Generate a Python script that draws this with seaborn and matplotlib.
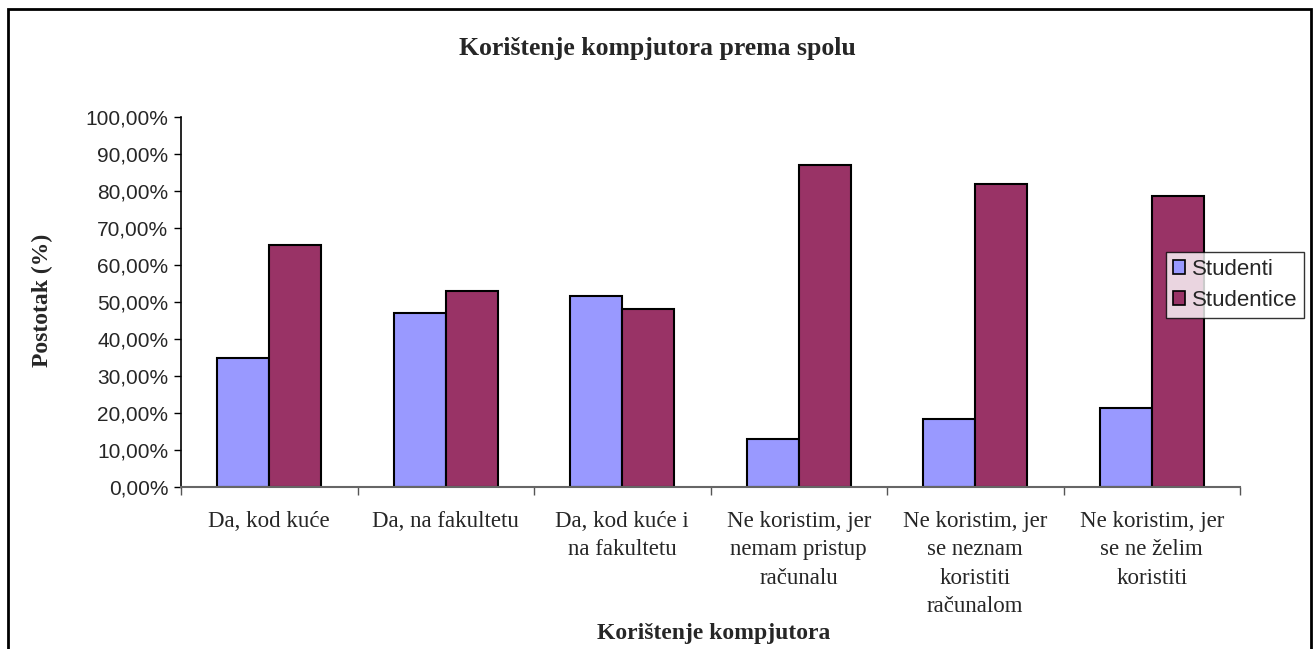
import matplotlib
matplotlib.use("Agg")
import matplotlib.pyplot as plt
import seaborn as sns
import pandas as pd
from matplotlib.patches import Rectangle
from matplotlib.ticker import FuncFormatter, MultipleLocator, FixedLocator

categories = [
    "Da, kod kuće",
    "Da, na fakultetu",
    "Da, kod kuće i\nna fakultetu",
    "Ne koristim, jer\nnemam pristup\nračunalu",
    "Ne koristim, jer\nse neznam\nkoristiti\nračunalom",
    "Ne koristim, jer\nse ne želim\nkoristiti",
]
studenti = [34.8, 47.0, 51.7, 13.0, 18.3, 21.3]
studentice = [65.3, 53.1, 48.2, 87.1, 81.8, 78.7]
series_names = ["Studenti", "Studentice"]
colors = ["#9999FF", "#993366"]

df = pd.DataFrame({
    "kat": categories * 2,
    "spol": [series_names[0]] * len(categories) + [series_names[1]] * len(categories),
    "val": studenti + studentice,
})

sns.set_style("white")
fig = plt.figure(figsize=(13.15, 6.49), dpi=100)
ax = fig.add_axes([181/1315, 1 - 487/649, (1240-181)/1315, (487-117)/649])

sns.barplot(data=df, x="kat", y="val", hue="spol", order=categories,
            hue_order=series_names, palette=colors, width=0.59,
            edgecolor="black", linewidth=1.5, saturation=1, ax=ax, errorbar=None)

ax.set_ylim(0, 100)
ax.set_xlim(-0.5, len(categories) - 0.5)
ax.yaxis.set_major_locator(MultipleLocator(10))
ax.yaxis.set_major_formatter(FuncFormatter(lambda v, p: f"{v:.2f}".replace(".", ",") + "%"))
for t in ax.get_yticklabels():
    t.set_fontfamily("Liberation Sans")
    t.set_fontsize(15)
ax.tick_params(axis="y", which="major", direction="out", length=5, width=1, color="black", left=True, pad=4)

ax.xaxis.set_minor_locator(FixedLocator([i - 0.5 for i in range(len(categories) + 1)]))
ax.tick_params(axis="x", which="major", length=0, pad=17)
ax.tick_params(axis="x", which="minor", direction="out", length=6, width=1, color="#555555", bottom=True)
ax.set_xticks(range(len(categories)))
ax.set_xticklabels(categories, fontfamily="Liberation Serif", fontsize=16.5, linespacing=1.47, va="top")

for s in ["top", "right"]:
    ax.spines[s].set_visible(False)
ax.spines["left"].set_color("black")
ax.spines["left"].set_linewidth(1.2)
ax.spines["bottom"].set_color("#666666")
ax.spines["bottom"].set_linewidth(1.5)

ax.set_xlabel("")
ax.set_ylabel("")
fig.text(714/1315, 1 - 634/649, "Korištenje kompjutora",
         ha="center", va="center", fontfamily="Liberation Serif", fontweight="bold", fontsize=17)
fig.text(42/1315, 1 - 300/649, "Postotak (%)", rotation=90, ha="center", va="center",
         fontfamily="Liberation Serif", fontweight="bold", fontsize=17)
fig.text(657/1315, 1 - 48/649, "Korištenje kompjutora prema spolu", ha="center", va="center",
         fontfamily="Liberation Serif", fontweight="bold", fontsize=18.5)

leg = ax.legend(loc="center left", bbox_to_anchor=(1166/1315, 1 - 285/649),
                bbox_transform=fig.transFigure, frameon=True, fancybox=False,
                prop={"family": "Liberation Sans", "size": 16},
                handlelength=0.55, handleheight=0.55, handletextpad=0.3,
                borderpad=0.3, labelspacing=0.45, borderaxespad=0)
leg.get_frame().set_edgecolor("black")
leg.get_frame().set_linewidth(1.0)
for h in leg.legend_handles:
    h.set_edgecolor("black")
    h.set_linewidth(1.2)

fig.patches.append(Rectangle((8/1315, -0.05), (1311-8)/1315, 1 - 9/649 + 0.05,
                             transform=fig.transFigure, fill=False,
                             edgecolor="black", linewidth=2, zorder=10))

fig.savefig("out.png", dpi=100, facecolor="white")
